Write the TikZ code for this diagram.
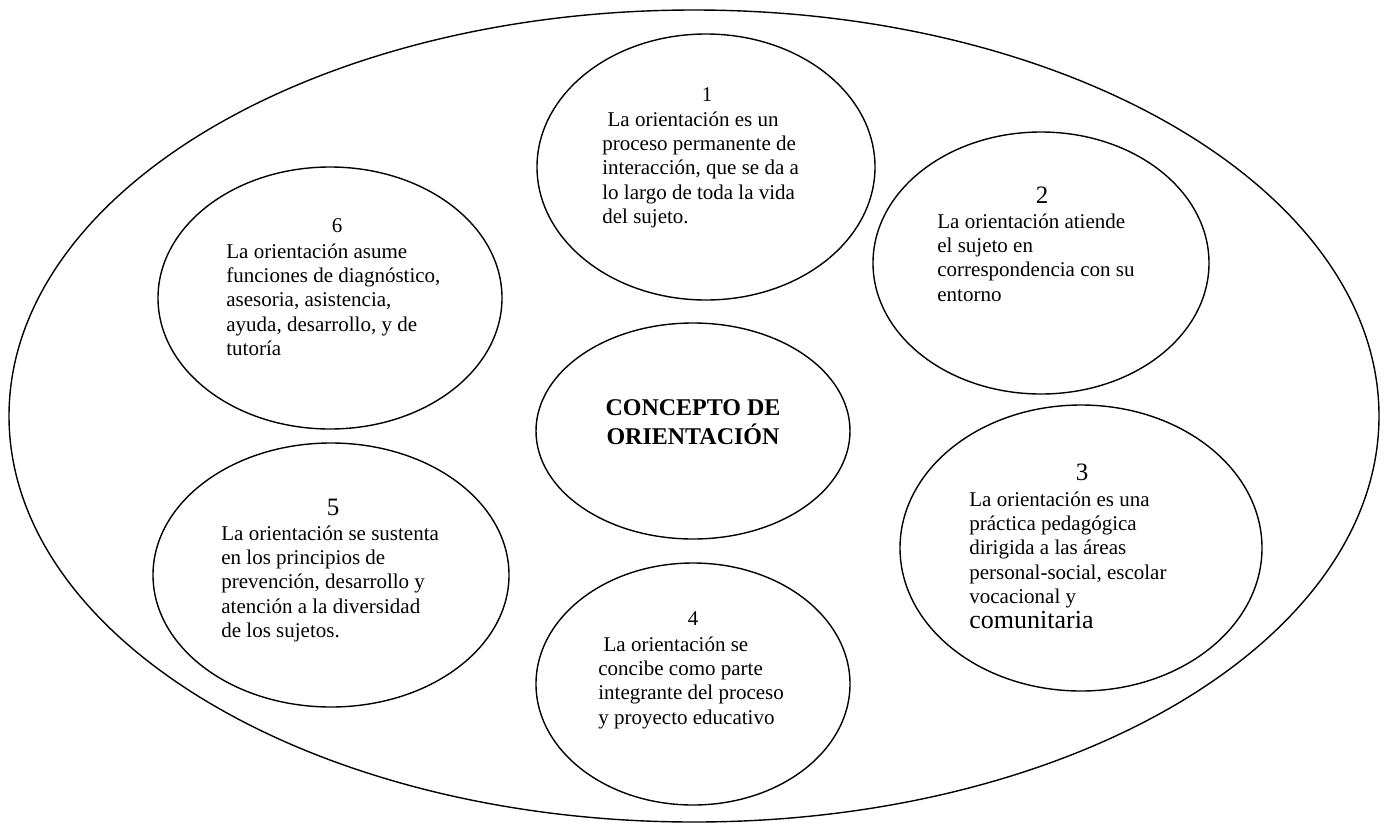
\documentclass[tikz,border=0pt]{standalone}
\usepackage{fontspec}
\setmainfont{Liberation Serif}
\usetikzlibrary{shapes.geometric}
\tikzset{blob/.style={draw,ellipse,line width=.7pt,inner sep=0pt,outer sep=0pt},
  num/.style={font=\fontsize{10.5}{12}\selectfont,inner sep=0pt},
  bignum/.style={font=\fontsize{12.5}{14}\selectfont,inner sep=0pt},
  txt/.style={anchor=north west,align=left,inner sep=0pt,font=\fontsize{10.5}{12.2}\selectfont}}

\begin{document}
\begin{tikzpicture}[x=.5pt,y=-.5pt]
\useasboundingbox (0,0) rectangle (1388,826);
\foreach \n/\x/\y/\w/\h in {big/694/416/685/406,1/706/167/169/133,2/1041/263/168/131,6/330/298/172/131,c/693/431/157/108,3/1081/548/181/143,5/331/575/178/132,4/693/684/157/121}
  \node[blob,minimum width=\w pt,minimum height=\h pt] (e\n) at (\x,\y) {};
\node[num] (n1) at (707,95) {1};
\node[txt] (t1) at (602,111) {\hspace{.25em}La orientación es un\\proceso permanente de\\interacción, que se da a\\lo largo de toda la vida\\del sujeto.};
\node[bignum] (n2) at (1042,195) {2};
\node[txt] (t2) at (937,213) {La orientación atiende\\el sujeto en\\correspondencia con su\\entorno};
\node[num] (n6) at (337,226) {6};
\node[txt] (t6) at (226,243) {La orientación asume\\funciones de diagnóstico,\\asesoria, asistencia,\\ayuda, desarrollo, y de\\tutoría};
\node[align=center,inner sep=0pt,font=\fontsize{12}{14.5}\selectfont\bfseries] (tc) at (693,422) {CONCEPTO DE\\ORIENTACIÓN};
\node[bignum] (n3) at (1082,472) {3};
\node[txt] (t3) at (969,491) {La orientación es una\\práctica pedagógica\\dirigida a las áreas\\personal-social, escolar\\vocacional y\\{\fontsize{13}{14}\selectfont comunitaria}};
\node[bignum] (n5) at (333,507) {5};
\node[txt] (t5) at (221,525) {La orientación se sustenta\\en los principios de\\prevención, desarrollo y\\atención a la diversidad\\de los sujetos.};
\node[num] (n4) at (693,619) {4};
\node[txt] (t4) at (598,636) {\hspace{.25em}La orientación se\\concibe como parte\\integrante del proceso\\y proyecto educativo};
\end{tikzpicture}
\end{document}
